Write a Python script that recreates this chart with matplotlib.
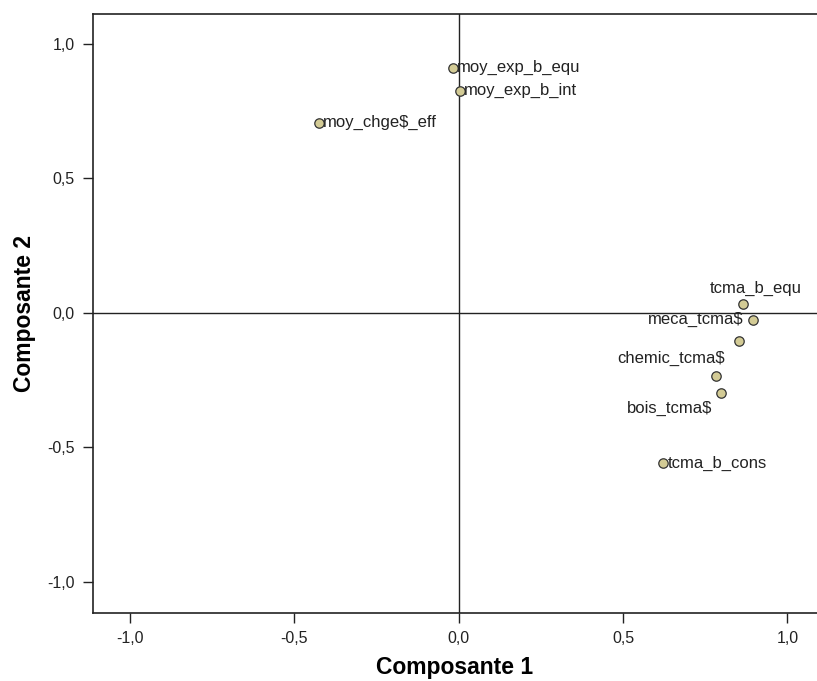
import matplotlib
matplotlib.use("Agg")
import matplotlib.pyplot as plt

labels = ["moy_exp_b_equ", "moy_exp_b_int", "moy_chge$_eff", "tcma_b_equ",
          "meca_tcma$", "", "chemic_tcma$", "bois_tcma$", "tcma_b_cons"]
comp1 = [-0.018, 0.003, -0.425, 0.865, 0.895, 0.853, 0.783, 0.798, 0.622]
comp2 = [0.911, 0.825, 0.706, 0.033, -0.026, -0.104, -0.234, -0.297, -0.558]
ticks = [-1.0, -0.5, 0.0, 0.5, 1.0]
tick_labels = ["-1,0", "-0,5", "0,0", "0,5", "1,0"]

# label placement: (dx, dy in points, ha, va)
placement = [(3, 0, "left", "center"), (3, 0, "left", "center"), (3, 0, "left", "center"),
             (9, 6, "center", "bottom"), (-7, 0, "right", "center"), (0, 0, "left", "center"),
             (6, 7, "right", "bottom"), (-6, -6, "right", "top"), (3, 0, "left", "center")]

plt.rcParams['font.family'] = ['Liberation Sans', 'DejaVu Sans']

fig = plt.figure(figsize=(8.17, 6.81), dpi=100)
ax = fig.add_axes([0.1138, 0.0999, 0.8862, 0.8795])

ax.axhline(0, color="#222222", lw=1.0, zorder=1)
ax.axvline(0, color="#222222", lw=1.0, zorder=1)
ax.scatter(comp1, comp2, s=46, facecolor="#d3cb95", edgecolor="#333333",
           linewidths=0.9, zorder=3)
for x, y, lab, (dx, dy, ha, va) in zip(comp1, comp2, labels, placement):
    if lab:
        ax.annotate(lab, (x, y), xytext=(dx, dy), textcoords="offset points",
                    ha=ha, va=va, fontsize=12, color="#222222")

ax.set_xlim(-1.112, 1.09)
ax.set_ylim(-1.115, 1.11)
ax.set_xticks(ticks)
ax.set_xticklabels(tick_labels)
ax.set_yticks(ticks)
ax.set_yticklabels(tick_labels)
ax.tick_params(direction="out", length=7, width=1, labelsize=11.5,
               colors="#222222", pad=6)
for side in ["top", "left", "bottom"]:
    ax.spines[side].set_linewidth(1.2)
    ax.spines[side].set_color("#222222")
ax.spines["right"].set_visible(False)

ax.set_xlabel("Composante 1", fontsize=16.5, fontweight="bold", labelpad=7)
ax.set_ylabel("Composante 2", fontsize=16.5, fontweight="bold", labelpad=8)

fig.savefig("out.png", dpi=100)
